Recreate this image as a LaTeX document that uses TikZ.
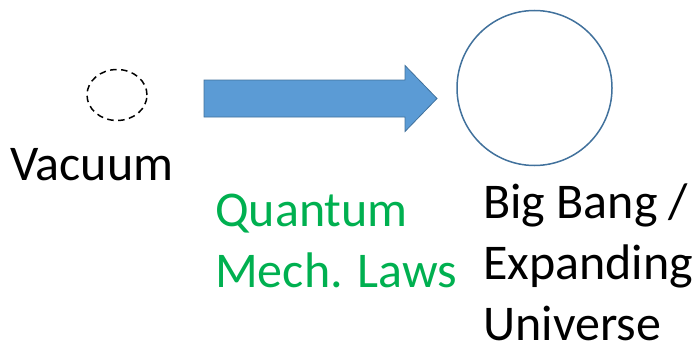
\documentclass[tikz,border=0pt]{standalone}
\usepackage{fontspec}
\setmainfont{Carlito}
\usetikzlibrary{shapes.geometric, positioning, calc}

\definecolor{arrowfill}{HTML}{5B9BD5}
\definecolor{arrowline}{HTML}{41719C}
\definecolor{lawgreen}{HTML}{00B050}

\begin{document}
\begin{tikzpicture}[x=1pt, y=-1pt,
    bigtext/.style={font=\fontsize{50}{61}\selectfont, inner sep=0pt, align=left, anchor=base west},
    vacstyle/.style={ellipse, draw, dashed, dash pattern=on 6.5pt off 4.5pt, line width=1.5pt, minimum width=60pt, minimum height=51pt, inner sep=0pt},
    bangstyle/.style={circle, draw=arrowline, line width=1.5pt, minimum size=155pt, inner sep=0pt}]

% Frame
\useasboundingbox (0,0) rectangle (696,345);

% Vacuum and the universe
\node[vacstyle] (vac) at (117,95) {};
\node[bangstyle] (bang) at (534.5,88) {};

% Block arrow
\coordinate (tail) at (204,98.5);
\coordinate (tip) at (437,98.5);
\filldraw[fill=arrowfill, draw=arrowline, line width=0.8pt]
    ($(tail)+(0,-18.5)$) -- ($(tip)+(-32,-18.5)$) -- ($(tip)+(-32,-33)$) -- (tip)
    -- ($(tip)+(-32,33)$) -- ($(tip)+(-32,18.5)$) -- ($(tail)+(0,18.5)$) -- cycle;

% Labels (base anchor sits on the last line)
\node[bigtext] (vaclabel) at (10,180) {Vacuum};
\node[bigtext, text=lawgreen] (laws) at (215,287) {Quantum\\Mech. Laws};
\node[bigtext] (banglabel) at (483,340) {Big Bang /\\Expanding\\Universe};

\end{tikzpicture}
\end{document}
